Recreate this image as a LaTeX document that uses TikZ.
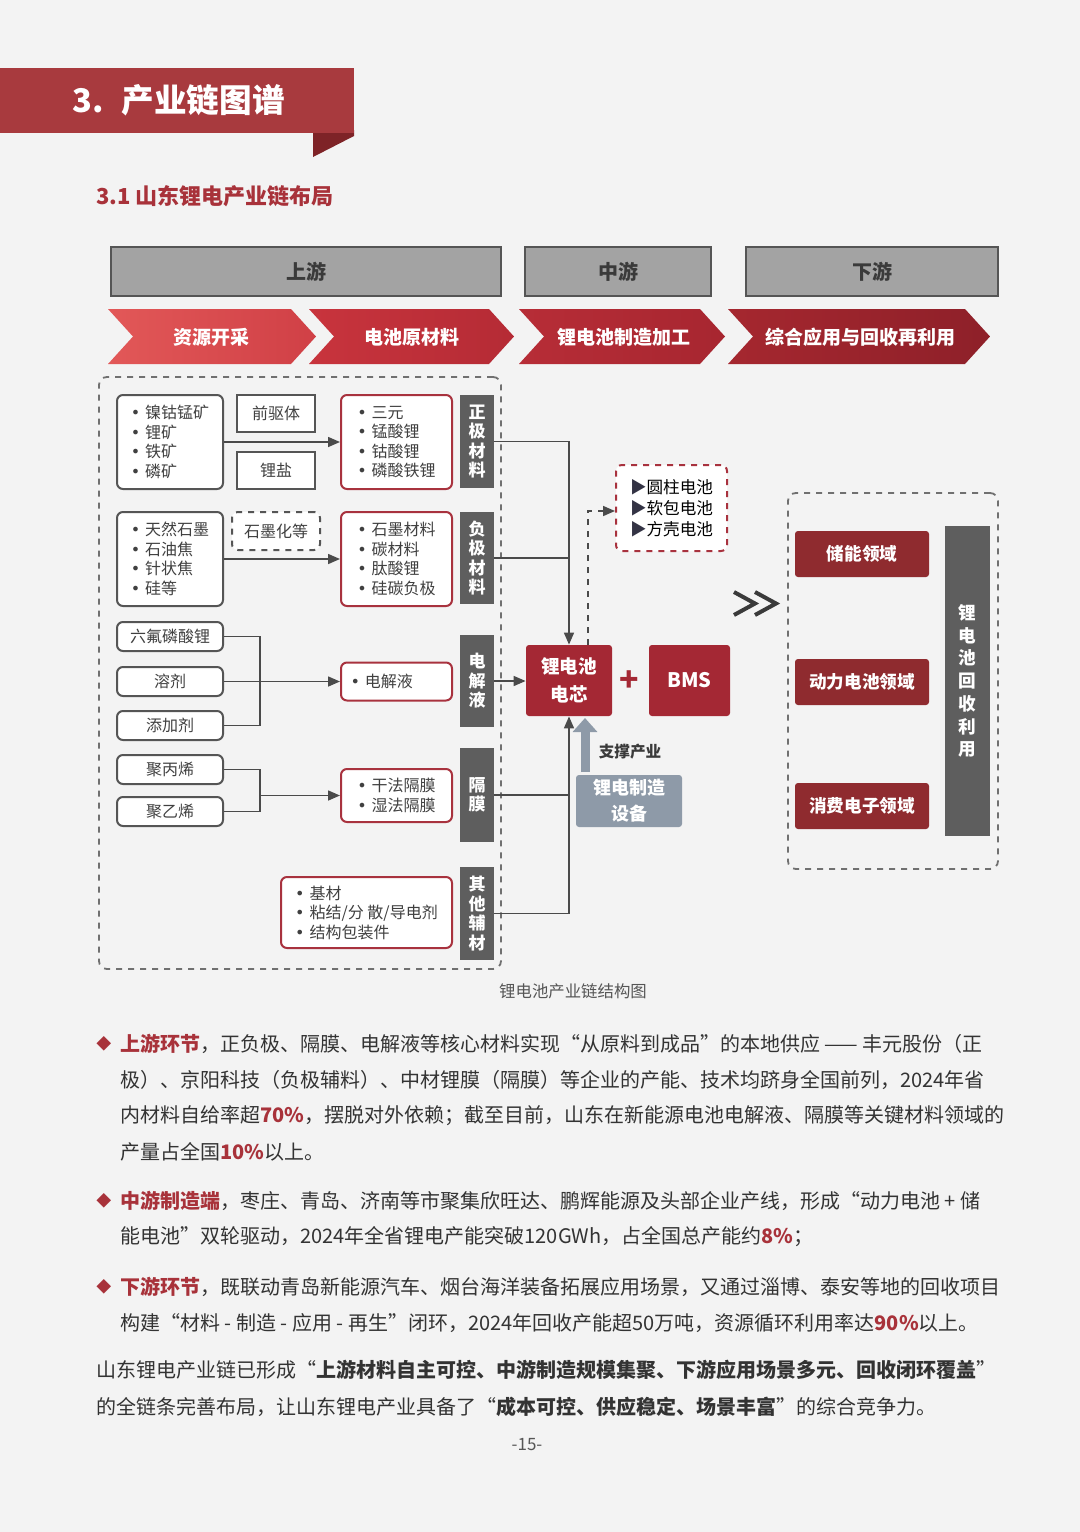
\documentclass[tikz,border=0pt]{standalone}
\usepackage{fontspec}
\setmainfont{Noto Sans CJK SC}
\newfontfamily\dejavu{DejaVu Sans}
\usetikzlibrary{arrows.meta,calc}
\definecolor{bg}{HTML}{F3F3F3}
\definecolor{banner}{HTML}{A83A3E}
\definecolor{bannertail}{HTML}{7E2327}
\definecolor{hl}{HTML}{A8323A}
\definecolor{hdrfill}{HTML}{A3A3A3}
\definecolor{hdrline}{HTML}{555555}
\definecolor{hdrtxt}{HTML}{3A3A3A}
\definecolor{cvA}{HTML}{E25858}
\definecolor{cvAr}{HTML}{D04046}
\definecolor{cvB}{HTML}{C8343D}
\definecolor{cvBr}{HTML}{B52B35}
\definecolor{cvC}{HTML}{B72D37}
\definecolor{cvCr}{HTML}{A72630}
\definecolor{cvD}{HTML}{A5272F}
\definecolor{cvDr}{HTML}{8E2029}
\definecolor{boxgray}{HTML}{555555}
\definecolor{boxred}{HTML}{A8323E}
\definecolor{txtgray}{HTML}{404040}
\definecolor{labgray}{HTML}{5E5E5E}
\definecolor{linegray}{HTML}{4A4A4A}
\definecolor{dashgray}{HTML}{707070}
\definecolor{cellred}{HTML}{A42834}
\definecolor{downred}{HTML}{8F2B2F}
\definecolor{eqgray}{HTML}{8E9AA8}
\definecolor{bodytxt}{HTML}{333333}
\definecolor{tri}{HTML}{333344}
\tikzset{
  gbox/.style={draw=boxgray, line width=1pt, fill=white, rounded corners=3pt,
    font=\fontsize{8}{9.75}\selectfont, text=txtgray, align=left, inner sep=2pt},
  sbox/.style={draw=boxgray, line width=0.8pt, fill=white,
    font=\fontsize{8}{9.75}\selectfont, text=txtgray, align=center, inner sep=2pt},
  rbox/.style={draw=boxred, line width=1pt, fill=white, rounded corners=3pt,
    font=\fontsize{8}{9.75}\selectfont, text=txtgray, align=left, inner sep=2pt},
  sidelab/.style={fill=labgray, text=white, font=\bfseries\fontsize{8.5}{9.75}\selectfont,
    align=center, inner sep=0pt, minimum width=17pt},
  conn/.style={draw=linegray, line width=0.8pt},
  arr/.style={conn, -{Triangle[length=6pt,width=5pt]}},
  hdr/.style={fill=hdrfill, draw=hdrline, line width=1pt, text=hdrtxt,
    font=\bfseries\fontsize{10}{12}\selectfont, minimum height=24.5pt, inner sep=0pt},
  cvtxt/.style={text=white, font=\bfseries\fontsize{9.5}{11}\selectfont, inner sep=0pt},
  downbox/.style={fill=downred, text=white, font=\bfseries\fontsize{8.8}{10}\selectfont,
    minimum width=67pt, minimum height=23pt, rounded corners=1.5pt, inner sep=0pt},
  para/.style={anchor=west, inner sep=0pt, text=bodytxt, font=\fontsize{10}{12}\selectfont},
}
\newcommand{\dia}{\textcolor{hl}{\fontsize{7.5}{9}\selectfont ◆}\hspace{1.5pt}}
\newcommand{\bul}{{\dejavu\fontsize{8}{9}\selectfont •}\hspace{2.5pt}}
\begin{document}
\begin{tikzpicture}[x=0.5pt,y=-0.5pt]
\useasboundingbox[fill=bg] (0,0) rectangle (1080,1532);

% ---------- title banner ----------
\fill[bannertail] (313,130) -- (354,130) -- (354,136) -- (313,157) -- cycle;
\fill[banner] (0,68) rectangle (354,133);
\node[anchor=west, text=white, font=\bfseries\fontsize{16.3}{18}\selectfont, inner sep=0pt] (title) at (72,100) {3.\hspace{9pt}产业链图谱};
\node[anchor=west, text=hl, font=\bfseries\fontsize{11}{13}\selectfont, inner sep=0pt] (subtitle) at (96,196) {3.1 山东锂电产业链布局};

% ---------- stage headers ----------
\node[hdr, minimum width=195pt] (up) at (306,271.5) {上游};
\node[hdr, minimum width=93pt] (mid) at (618,271.5) {中游};
\node[hdr, minimum width=126pt] (down) at (872,271.5) {下游};

% ---------- chevrons ----------
\shade[left color=cvA, right color=cvAr] (108,309) -- (291,309) -- (316,336.5) -- (291,364) -- (108,364) -- (133,336.5) -- cycle;
\shade[left color=cvB, right color=cvBr] (309,309) -- (489,309) -- (514,336.5) -- (489,364) -- (309,364) -- (334,336.5) -- cycle;
\shade[left color=cvC, right color=cvCr] (519,309) -- (700,309) -- (725,336.5) -- (700,364) -- (519,364) -- (544,336.5) -- cycle;
\shade[left color=cvD, right color=cvDr] (728,309) -- (965,309) -- (990,336.5) -- (965,364) -- (728,364) -- (753,336.5) -- cycle;
\node[cvtxt] (cv1) at (211,337) {资源开采};
\node[cvtxt] (cv2) at (412,337) {电池原材料};
\node[cvtxt] (cv3) at (624,337) {锂电池制造加工};
\node[cvtxt] (cv4) at (860,337) {综合应用与回收再利用};

% ---------- upstream dashed frame ----------
\node[draw=dashgray, dashed, line width=0.9pt, rounded corners=4pt,
  minimum width=201pt, minimum height=296pt, inner sep=0pt] (upframe) at (300,673) {};

% row 1: cathode
\node[gbox, minimum width=53pt, minimum height=47pt] (a1) at (170,442) {\bul 镍钴锰矿\\\bul 锂矿\\\bul 铁矿\\\bul 磷矿};
\node[sbox, minimum width=39pt, minimum height=18.5pt] (p1) at (276,413.5) {前驱体};
\node[sbox, minimum width=39pt, minimum height=18.5pt] (p2) at (276,470.5) {锂盐};
\node[rbox, minimum width=55.5pt, minimum height=47pt] (r1) at (396.5,442) {\bul 三元\\\bul 锰酸锂\\\bul 钴酸锂\\\bul 磷酸铁锂};
\node[sidelab, minimum height=46.5pt] (l1) at (477,441.5) {正\\极\\材\\料};

% row 2: anode
\node[gbox, minimum width=53pt, minimum height=47pt] (a2) at (170,559) {\bul 天然石墨\\\bul 石油焦\\\bul 针状焦\\\bul 硅等};
\node[gbox, dashed, minimum width=44pt, minimum height=19pt, align=center] (p3) at (276,531) {石墨化等};
\node[rbox, minimum width=55.5pt, minimum height=47pt] (r2) at (396.5,559) {\bul 石墨材料\\\bul 碳材料\\\bul 肽酸锂\\\bul 硅碳负极};
\node[sidelab, minimum height=46pt] (l2) at (477,558) {负\\极\\材\\料};

% row 3: electrolyte
\node[gbox, minimum width=53pt, minimum height=14.5pt, align=center] (e1) at (170,636.5) {六氟磷酸锂};
\node[gbox, minimum width=53pt, minimum height=14.5pt, align=center] (e2) at (170,681.5) {溶剂};
\node[gbox, minimum width=53pt, minimum height=14.5pt, align=center] (e3) at (170,725.5) {添加剂};
\node[rbox, minimum width=55.5pt, minimum height=19pt, text width=46pt] (r3) at (396.5,681.5) {\bul 电解液};
\node[sidelab, minimum height=46pt] (l3) at (477,681) {电\\解\\液};

% row 4: separator
\node[gbox, minimum width=53pt, minimum height=14.5pt, align=center] (s1) at (170,769.5) {聚丙烯};
\node[gbox, minimum width=53pt, minimum height=14.5pt, align=center] (s2) at (170,811.5) {聚乙烯};
\node[rbox, minimum width=55.5pt, minimum height=26.5pt] (r4) at (396.5,795.5) {\bul 干法隔膜\\\bul 湿法隔膜};
\node[sidelab, minimum height=47pt] (l4) at (477,795) {隔\\膜};

% row 5: auxiliaries
\node[rbox, minimum width=85.5pt, minimum height=35.5pt] (r5) at (366.5,912.5) {\bul 基材\\\bul 粘结/分 散/导电剂\\\bul 结构包装件};
\node[sidelab, minimum height=46.5pt] (l5) at (477,913.5) {其\\他\\辅\\材};

% left-side connectors
\draw[arr] (a1) -- (r1);
\draw[arr] (a2) -- (r2);
\coordinate (j3) at (260,681.5);
\draw[conn] (e1.east) -| (j3) |- (e3.east);
\draw[arr] (e2) -- (r3);
\coordinate (j4) at (260,795.5);
\draw[conn] (s1.east) -| (j4) |- (s2.east);
\draw[arr] (j4) -- (r4);

% ---------- midstream ----------
\node[fill=cellred, text=white, font=\bfseries\fontsize{9.3}{14}\selectfont, align=center,
  minimum width=43pt, minimum height=35.5pt, rounded corners=1.5pt, inner sep=0pt] (cell) at (569,680.5) {锂电池\\电芯};
\node[text=cellred, font=\bfseries\fontsize{16}{16}\selectfont, inner sep=0pt] (plus) at (629,681) {+};
\node[fill=cellred, text=white, font=\bfseries\fontsize{10}{12}\selectfont,
  minimum width=40.5pt, minimum height=35.5pt, rounded corners=1.5pt, inner sep=0pt] (bms) at (689.5,680.5) {BMS};
\node[draw=boxred, dashed, line width=1pt, fill=white, rounded corners=3pt, align=left,
  minimum width=55.5pt, minimum height=43pt, inner sep=1pt, text=black,
  font=\fontsize{8.3}{10.5}\selectfont] (bt) at (671.5,508) {\textcolor{tri}{▶}圆柱电池\\\textcolor{tri}{▶}软包电池\\\textcolor{tri}{▶}方壳电池};
\node[fill=eqgray, text=white, font=\bfseries\fontsize{9}{13}\selectfont, align=center,
  minimum width=53pt, minimum height=26pt, rounded corners=1.5pt, inner sep=0pt] (eq) at (629,801) {锂电制造\\设备};
\node[text=hdrtxt, font=\bfseries\fontsize{7.8}{9}\selectfont, inner sep=0pt] (support) at (630,752) {支撑产业};

% trunk connectors into the cell
\draw[arr] (l1.east) -| (cell.north);
\draw[conn] (l2.east) -- (l2.east -| cell.north);
\draw[arr] (l3.east) -- (l3.east -| cell.west);
\draw[arr] (l5.east) -| (cell.south);
\draw[conn] (l4.east) -- (l4.east -| cell.south);
\coordinate (dstart) at ($(cell.north)+(19,0)$);
\coordinate (dturn) at (588,511);
\draw[conn, dashed, -{Triangle[length=6pt,width=5pt]}] (dstart) -- (dturn) -- (dturn -| bt.west);
% support arrow
\coordinate (sa1) at (585,772);
\coordinate (sa2) at (585,718);
\draw[draw=eqgray, line width=4.5pt, -{Triangle[length=7pt,width=12pt]}] (sa1) -- (sa2);

% ---------- >> ----------
\draw[draw=hdrtxt, line width=2pt, line join=miter] (734,592) -- (755,603.5) -- (734,615);
\draw[draw=hdrtxt, line width=2pt, line join=miter] (755,592) -- (776,603.5) -- (755,615);

% ---------- downstream ----------
\node[draw=dashgray, dashed, line width=0.9pt, rounded corners=4pt,
  minimum width=105pt, minimum height=188pt, inner sep=0pt] (downframe) at (893,681) {};
\node[downbox] (d1) at (862,554) {储能领域};
\node[downbox] (d2) at (862,682) {动力电池领域};
\node[downbox] (d3) at (862,806) {消费电子领域};
\node[fill=labgray, text=white, font=\bfseries\fontsize{8.8}{11.35}\selectfont, align=center,
  minimum width=22.5pt, minimum height=155pt, inner sep=0pt] (recycle) at (967.5,681) {锂\\电\\池\\回\\收\\利\\用};

% caption
\node[text=hdrline, font=\fontsize{8.2}{10}\selectfont, inner sep=0pt] (caption) at (573,991) {锂电池产业链结构图};

% ---------- body text ----------
\node[anchor=west, inner sep=0pt] (b1) at (96,1044) {\dia};
\node[para] (t1) at (120,1044) {\textcolor{hl}{\bfseries 上游环节}，正负极、隔膜、电解液等核心材料实现“从原料到成品”的本地供应 —— 丰元股份（正};
\node[para] (t2) at (120,1080) {极）、京阳科技（负极辅料）、中材锂膜（隔膜）等企业的产能、技术均跻身全国前列，2024年省};
\node[para] (t3) at (120,1116) {内材料自给率超\textcolor{hl}{\bfseries 70\%}，摆脱对外依赖；截至目前，山东在新能源电池电解液、隔膜等关键材料领域的};
\node[para] (t4) at (120,1152) {产量占全国\textcolor{hl}{\bfseries 10\%}以上。};

\node[anchor=west, inner sep=0pt] (b2) at (96,1201) {\dia};
\node[para] (t5) at (120,1201) {\textcolor{hl}{\bfseries 中游制造端}，枣庄、青岛、济南等市聚集欣旺达、鹏辉能源及头部企业产线，形成“动力电池 + 储};
\node[para] (t6) at (120,1237) {能电池”双轮驱动，2024年全省锂电产能突破120GWh，占全国总产能约\textcolor{hl}{\bfseries 8\%}；};

\node[anchor=west, inner sep=0pt] (b3) at (96,1287) {\dia};
\node[para] (t7) at (120,1287) {\textcolor{hl}{\bfseries 下游环节}，既联动青岛新能源汽车、烟台海洋装备拓展应用场景，又通过淄博、泰安等地的回收项目};
\node[para] (t8) at (120,1323) {构建“材料 - 制造 - 应用 - 再生”闭环，2024年回收产能超50万吨，资源循环利用率达\textcolor{hl}{\bfseries 90\%}以上。};

\node[para] (t9) at (96,1370) {山东锂电产业链已形成“\textbf{上游材料自主可控、中游制造规模集聚、下游应用场景多元、回收闭环覆盖}”};
\node[para] (t10) at (96,1407) {的全链条完善布局，让山东锂电产业具备了“\textbf{成本可控、供应稳定、场景丰富}”的综合竞争力。};

\node[text=hdrline, font=\fontsize{8.5}{10}\selectfont, inner sep=0pt] (page) at (527,1445) {-15-};
\end{tikzpicture}
\end{document}
